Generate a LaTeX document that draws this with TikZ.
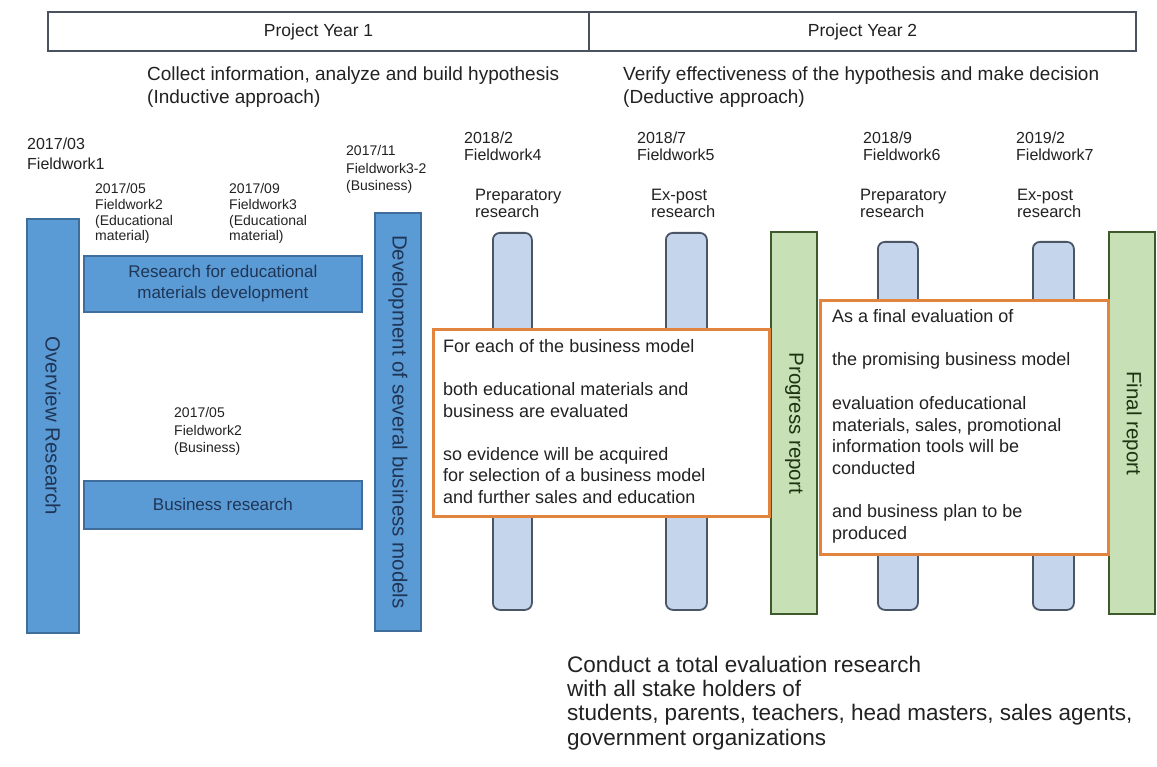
\documentclass[tikz,border=0pt]{standalone}
\usepackage{fontspec}
\setmainfont{Liberation Sans}
\newcommand\fsz[2]{\fontsize{#1}{#2}\selectfont}
\definecolor{bluefill}{HTML}{5B9BD5}
\definecolor{blueedge}{HTML}{3F6E9C}
\definecolor{navy}{HTML}{1F3556}
\definecolor{paleblue}{HTML}{C5D6EC}
\definecolor{slateedge}{HTML}{4A5566}
\definecolor{greenfill}{HTML}{C7E0B5}
\definecolor{greenedge}{HTML}{3E5A2A}
\definecolor{greentext}{HTML}{1E3312}
\definecolor{noteedge}{HTML}{E0843E}
\definecolor{headedge}{HTML}{4A5260}
\definecolor{ink}{HTML}{222222}
\begin{document}
% multi-line text nodes are anchored at the baseline of their LAST line
\begin{tikzpicture}[x=1pt,y=-1pt,
  headcell/.style={draw=headedge, line width=2.2pt, fill=white, anchor=north west, inner sep=0pt},
  darkbar/.style={draw=blueedge, fill=bluefill, line width=1.8pt, anchor=north west, inner sep=0pt},
  palebar/.style={draw=slateedge, fill=paleblue, line width=1.8pt, rounded corners=7pt, anchor=north west, inner sep=0pt},
  greenbar/.style={draw=greenedge, fill=greenfill, line width=2.4pt, anchor=north west, inner sep=0pt},
  notebox/.style={draw=noteedge, fill=white, line width=2.6pt, anchor=north west, inner sep=0pt},
  bartext/.style={text=navy, rotate=-90, font=\fsz{20.5}{24}},
  reporttext/.style={text=greentext, rotate=-90, font=\fsz{20.5}{24}},
  date/.style={text=ink, anchor=base west, align=left, inner sep=0pt, font=\fsz{16}{17}},
  smalldate/.style={text=ink, anchor=base west, align=left, inner sep=0pt, font=\fsz{14}{15.7}},
  body/.style={text=ink, anchor=base west, align=left, inner sep=0pt},
]
\useasboundingbox (0,0) rectangle (1157,767);
\fill[white] (0,0) rectangle (1157,767);

% header: project years
\node[headcell, minimum width=541pt, minimum height=39pt] (y1) at (47,11) {};
\node[headcell, minimum width=547pt, minimum height=39pt] (y2) at (588,11) {};
\node[text=ink, font=\fsz{17.5}{20}] (y1t) at (y1.center) {Project Year 1};
\node[text=ink, font=\fsz{17.5}{20}] (y2t) at (y2.center) {Project Year 2};

% phase descriptions
\node[body, font=\fsz{19}{23}] (ph1) at (147,104) {Collect information, analyze and build hypothesis\\(Inductive approach)};
\node[body, font=\fsz{19}{23}] (ph2) at (623,104) {Verify effectiveness of the hypothesis and make decision\\(Deductive approach)};

% fieldwork dates
\node[date, font=\fsz{16}{20}] (fw1) at (27,170) {2017/03\\Fieldwork1};
\node[smalldate] (fw2) at (95,241) {2017/05\\Fieldwork2\\(Educational\\material)};
\node[smalldate] (fw3) at (229,241) {2017/09\\Fieldwork3\\(Educational\\material)};
\node[smalldate, font=\fsz{14}{17.5}] (fw32) at (346,191) {2017/11\\Fieldwork3-2\\(Business)};
\node[smalldate, font=\fsz{14}{17.5}] (fw2b) at (174,452.5) {2017/05\\Fieldwork2\\(Business)};
\node[date] (fw4) at (464,160.5) {2018/2\\Fieldwork4};
\node[date] (fw5) at (637,160.5) {2018/7\\Fieldwork5};
\node[date] (fw6) at (863,160.5) {2018/9\\Fieldwork6};
\node[date] (fw7) at (1016,160.5) {2019/2\\Fieldwork7};
\node[date, font=\fsz{16.5}{17.5}] (r4) at (475,218) {Preparatory\\research};
\node[date, font=\fsz{16.5}{17.5}] (r5) at (651,218) {Ex-post\\research};
\node[date, font=\fsz{16.5}{17.5}] (r6) at (860,218) {Preparatory\\research};
\node[date, font=\fsz{16.5}{17.5}] (r7) at (1017,218) {Ex-post\\research};

% year-one research blocks
\node[darkbar, minimum width=52pt, minimum height=414pt] (ov) at (26,218) {};
\node[bartext] (ovt) at (ov.center) {Overview Research};
\node[darkbar, minimum width=278pt, minimum height=56pt] (edu) at (83,255) {};
\node[text=navy, align=center, font=\fsz{17}{21}] (edut) at (edu.center) {Research for educational\\materials development};
\node[darkbar, minimum width=278pt, minimum height=48pt] (bus) at (83,480) {};
\node[text=navy, font=\fsz{17}{20}] (bust) at (bus.center) {Business research};
\node[darkbar, minimum width=46pt, minimum height=418pt] (dev) at (374,212) {};
\node[bartext] (devt) at (dev.center) {Development of several business models};

% year-two fieldwork bars
\node[palebar, minimum width=39pt, minimum height=377pt] (b4) at (492,232) {};
\node[palebar, minimum width=41pt, minimum height=377pt] (b5) at (665,232) {};
\node[palebar, minimum width=40pt, minimum height=368pt] (b6) at (877,241) {};
\node[palebar, minimum width=41pt, minimum height=368pt] (b7) at (1032,241) {};

% reports
\node[greenbar, minimum width=46pt, minimum height=382pt] (prog) at (770,231) {};
\node[reporttext] (progt) at (prog.center) {Progress report};
\node[greenbar, minimum width=46pt, minimum height=382pt] (fin) at (1108,231) {};
\node[reporttext] (fint) at (fin.center) {Final report};

% evaluation notes
\node[notebox, minimum width=336pt, minimum height=187pt] (n1) at (432,328) {};
\node[body, font=\fsz{18}{21.5}] (n1t) at (443,503) {For each of the business model\\[21.5pt]
both educational materials and\\business are evaluated\\[21.5pt]
so evidence will be acquired\\for selection of a business model\\and further sales and education};
\node[notebox, minimum width=288pt, minimum height=254pt] (n2) at (819,299) {};
\node[body, font=\fsz{18}{21.7}] (n2t) at (832,539.5) {As a final evaluation of\\[21.7pt]
the promising business model\\[21.7pt]
evaluation ofeducational\\materials, sales, promotional\\information tools will be\\conducted\\[21.7pt]
and business plan to be\\produced};

% closing statement
\node[body, font=\fsz{22.5}{24.3}] (close) at (567,745) {Conduct a total evaluation research\\with all stake holders of\\students, parents, teachers, head masters, sales agents,\\government organizations};
\end{tikzpicture}
\end{document}
